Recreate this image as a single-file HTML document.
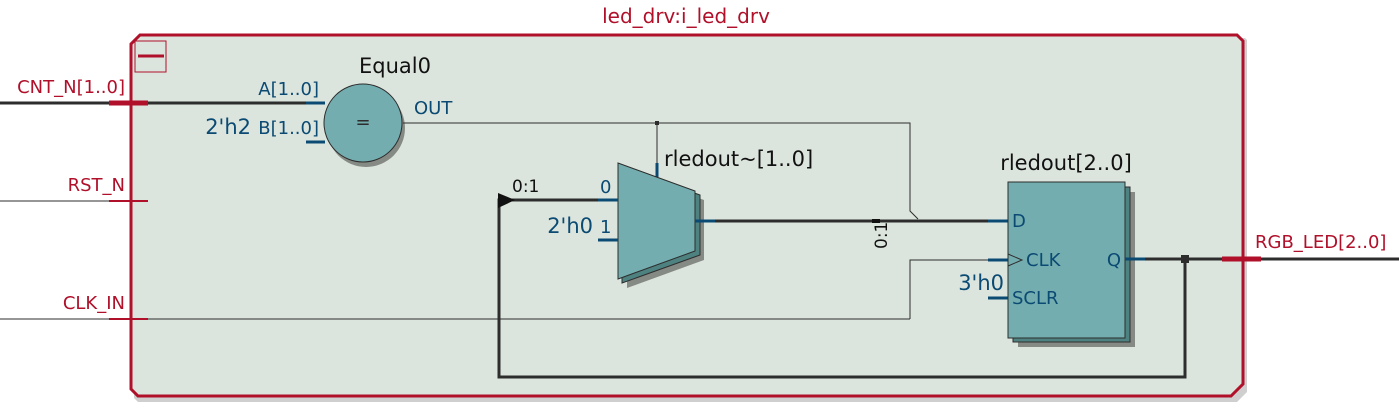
<!DOCTYPE html>
<html><head><style>body{margin:0;background:#fff}svg{display:block}text{font-family:"DejaVu Sans","Liberation Sans",sans-serif}</style></head><body>
<svg width="1399" height="413" viewBox="0 0 1399 413">
<text x="686" y="23" font-size="20" fill="#b0102a" text-anchor="middle">led_drv:i_led_drv</text>
<polygon points="142,38 1245,38 1247,40 1247,392 1237,402 138,402 134,398 134,46" fill="#cfcfcf"/>
<polygon points="140,35 1237,35 1243,41 1243,384 1231,396 138,396 131,389 131,44" fill="#dce5dd" stroke="#b0102a" stroke-width="3"/>
<rect x="135" y="41" width="31" height="31" fill="none" stroke="#b0102a" stroke-width="1"/>
<line x1="138" y1="56" x2="164" y2="56" stroke="#b0102a" stroke-width="3"/>
<line x1="0" y1="103" x2="306" y2="103" stroke="#2d2d2d" stroke-width="3"/>
<line x1="109" y1="103" x2="148" y2="103" stroke="#b0102a" stroke-width="5"/>
<line x1="0" y1="201" x2="148" y2="201" stroke="#2d2d2d" stroke-width="1"/>
<line x1="109" y1="201" x2="148" y2="201" stroke="#b0102a" stroke-width="2"/>
<line x1="0" y1="319" x2="910" y2="319" stroke="#2d2d2d" stroke-width="1"/>
<line x1="109" y1="319" x2="148" y2="319" stroke="#b0102a" stroke-width="2"/>
<text x="125" y="93" font-size="18" fill="#b0102a" text-anchor="end">CNT_N[1..0]</text>
<text x="125" y="191" font-size="18" fill="#b0102a" text-anchor="end">RST_N</text>
<text x="125" y="309" font-size="18" fill="#b0102a" text-anchor="end">CLK_IN</text>
<text x="395" y="73" font-size="21" fill="#111" text-anchor="middle">Equal0</text>
<circle cx="366" cy="128" r="39" fill="#858a85"/>
<circle cx="363" cy="123" r="39" fill="#74adaf" stroke="#2d2d2d" stroke-width="1"/>
<text x="363" y="128" font-size="18" fill="#2d2d2d" text-anchor="middle">=</text>
<line x1="306" y1="103" x2="325" y2="103" stroke="#0a4a73" stroke-width="3"/>
<line x1="306" y1="142" x2="325" y2="142" stroke="#0a4a73" stroke-width="3"/>
<text x="319" y="95" font-size="18" fill="#0a4a73" text-anchor="end">A[1..0]</text>
<text x="319" y="134" font-size="18" fill="#0a4a73" text-anchor="end">B[1..0]</text>
<text x="251" y="134" font-size="21" fill="#0a4a73" text-anchor="end">2'h2</text>
<text x="414" y="114" font-size="18" fill="#0a4a73">OUT</text>
<polyline points="403,123 910,123 910,211 918,219" fill="none" stroke="#2d2d2d" stroke-width="1"/>
<line x1="657" y1="123" x2="657" y2="163" stroke="#2d2d2d" stroke-width="1"/>
<rect x="655" y="121" width="4" height="4" fill="#2d2d2d"/>
<line x1="657" y1="163" x2="657" y2="177" stroke="#0a4a73" stroke-width="3"/>
<polygon points="627,172 704,200 704,260 627,288" fill="#858a85"/>
<polygon points="622,167 700,195 700,255 622,283" fill="#4d8280" stroke="#2d2d2d" stroke-width="1"/>
<polygon points="618,163 695,191 695,251 618,279" fill="#74adaf" stroke="#2d2d2d" stroke-width="1"/>
<text x="664" y="166" font-size="21" fill="#111">rledout~[1..0]</text>
<line x1="598" y1="200" x2="618" y2="200" stroke="#0a4a73" stroke-width="3"/>
<line x1="598" y1="240" x2="618" y2="240" stroke="#0a4a73" stroke-width="3"/>
<text x="600" y="193" font-size="18" fill="#0a4a73">0</text>
<text x="600" y="233" font-size="18" fill="#0a4a73">1</text>
<text x="593" y="233" font-size="21" fill="#0a4a73" text-anchor="end">2'h0</text>
<polyline points="598,200 499,200 499,377 1185,377 1185,259" fill="none" stroke="#2d2d2d" stroke-width="3"/>
<polygon points="498,193 515,200 498,208" fill="#111"/>
<text x="512" y="192" font-size="17" fill="#111">0:1</text>
<line x1="695" y1="221" x2="1008" y2="221" stroke="#2d2d2d" stroke-width="3"/>
<line x1="695" y1="221" x2="715" y2="221" stroke="#0a4a73" stroke-width="3"/>
<line x1="988" y1="221" x2="1008" y2="221" stroke="#0a4a73" stroke-width="3"/>
<rect x="872" y="219" width="8" height="4" fill="#111"/>
<text x="887" y="249" font-size="17" fill="#111" transform="rotate(-90 887 249)">0:1</text>
<polyline points="910,319 910,260 1008,260" fill="none" stroke="#2d2d2d" stroke-width="1"/>
<line x1="988" y1="260" x2="1008" y2="260" stroke="#0a4a73" stroke-width="3"/>
<line x1="988" y1="298" x2="1008" y2="298" stroke="#0a4a73" stroke-width="3"/>
<text x="1004" y="290" font-size="21" fill="#0a4a73" text-anchor="end">3'h0</text>
<rect x="1018" y="192" width="117" height="155" fill="#858a85"/>
<rect x="1013" y="187" width="117" height="155" fill="#4d8280" stroke="#2d2d2d" stroke-width="1"/>
<rect x="1008" y="182" width="117" height="156" fill="#74adaf" stroke="#2d2d2d" stroke-width="1"/>
<polyline points="1008,254 1022,260 1008,266" fill="none" stroke="#2d2d2d" stroke-width="1"/>
<text x="1066" y="170" font-size="21" fill="#111" text-anchor="middle">rledout[2..0]</text>
<text x="1012" y="227" font-size="18" fill="#0a4a73">D</text>
<text x="1026" y="266" font-size="18" fill="#0a4a73">CLK</text>
<text x="1012" y="304" font-size="18" fill="#0a4a73">SCLR</text>
<text x="1121" y="266" font-size="18" fill="#0a4a73" text-anchor="end">Q</text>
<line x1="1125" y1="259" x2="1399" y2="259" stroke="#2d2d2d" stroke-width="3"/>
<line x1="1125" y1="259" x2="1145" y2="259" stroke="#0a4a73" stroke-width="3"/>
<rect x="1181" y="255" width="8" height="8" fill="#2d2d2d"/>
<line x1="1222" y1="259" x2="1261" y2="259" stroke="#b0102a" stroke-width="5"/>
<text x="1255" y="248" font-size="18" fill="#b0102a">RGB_LED[2..0]</text>
</svg>
</body></html>
